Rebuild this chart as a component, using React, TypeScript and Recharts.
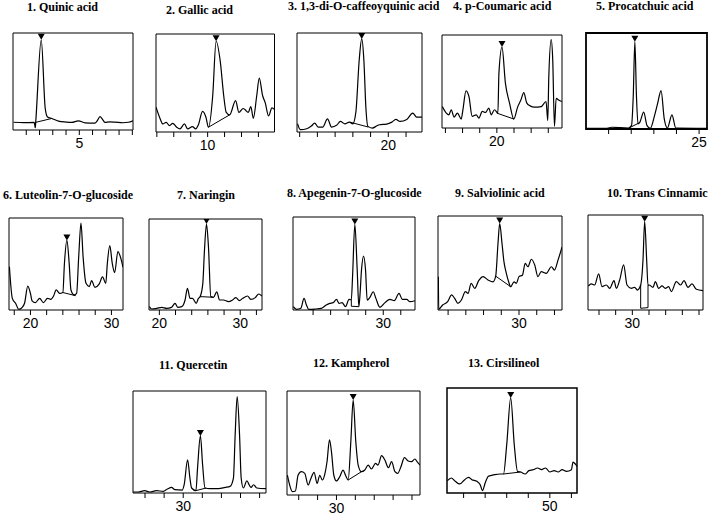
import { ComposedChart, Line, Scatter, XAxis, YAxis, ReferenceArea } from "recharts"

type Pt = [number, number]

// retention time (min) vs. detector response (% of panel height)
const quinicTrace: Pt[] = [[0.04, 8], [0.8, 7.6], [1.6, 7.8], [1.68, 2.3], [1.72, 9.5], [2.13, 93], [2.43, 22.3], [2.6, 13.5], [2.93, 11.9], [3.43, 9.2], [4.0, 8.2], [4.43, 7.8], [4.93, 9.5], [5.43, 7.4], [6.18, 7.1], [6.35, 9.5], [6.56, 13.7], [6.75, 11], [6.93, 7.8], [7.3, 8.3], [7.68, 8.1], [8.3, 7.5], [8.7, 8], [9.05, 9.5]]
const quinicBase: Pt[] = [[1.68, 7.8], [2.93, 11.9]]
const quinicApex: Pt = [2.13, 93]

const gallicTrace: Pt[] = [[6.95, 25.3], [7.2, 13.3], [7.35, 8.2], [7.55, 9.9], [7.75, 6.5], [7.94, 8.9], [8.17, 4.9], [8.37, 3.2], [8.63, 8.2], [8.82, 3.2], [9.1, 5.5], [9.3, 3.2], [9.45, 7.2], [9.7, 21], [9.9, 15], [10.05, 4.9], [10.3, 37], [10.5, 92.6], [10.75, 71.5], [10.95, 37], [11.1, 20], [11.3, 17.5], [11.65, 32], [11.85, 20], [12.1, 24], [12.2, 23], [12.4, 20], [12.55, 26], [12.7, 14], [12.9, 37], [13.05, 55], [13.25, 37], [13.4, 30], [13.6, 16.5], [13.8, 24.6], [13.95, 23]]
const gallicBase: Pt[] = [[10.05, 4.9], [11.3, 17.5]]
const gallicApex: Pt = [10.5, 92.6]

const caffeoylTrace: Pt[] = [[14.88, 8.3], [15.04, 2.3], [15.4, 3.3], [15.66, 6], [15.85, 9], [16.04, 5], [16.3, 5], [16.57, 13.3], [16.8, 5], [17.08, 6.7], [17.3, 10.7], [17.55, 8.3], [17.8, 10], [18.0, 8.3], [18.17, 20], [18.36, 73], [18.5, 94], [18.62, 73], [18.74, 23], [18.85, 5.7], [19.1, 4], [19.34, 6], [19.5, 7.3], [19.9, 8], [20.2, 10], [20.43, 12.7], [20.66, 10.7], [21.04, 12.7], [21.38, 19], [21.6, 15], [21.9, 15]]
const caffeoylBase: Pt[] = [[17.83, 10], [18.87, 5]]
const caffeoylApex: Pt = [18.5, 94]

const coumaricTrace: Pt[] = [[16.82, 23], [17.05, 16], [17.2, 14.2], [17.34, 19.6], [17.5, 11.7], [17.7, 16], [17.92, 9.6], [18.02, 19.6], [18.2, 40], [18.37, 34], [18.56, 12.5], [18.8, 14.2], [18.95, 10.7], [19.15, 17.8], [19.34, 16.7], [19.53, 21.4], [19.67, 14.2], [19.86, 19.6], [20.06, 16], [20.12, 58.7], [20.3, 87], [20.5, 48], [20.74, 26.7], [20.99, 9.6], [21.22, 23], [21.4, 30], [21.57, 38], [21.75, 26.7], [21.94, 23.8], [22.2, 22.4], [22.58, 23], [22.87, 28.5], [22.97, 8], [23.03, 55], [23.17, 95], [23.26, 73], [23.36, 1.8], [23.46, 32], [23.6, 30], [23.79, 28.5]]
const coumaricBase: Pt[] = [[20.0, 16], [21.0, 9.6]]
const coumaricApex: Pt = [20.3, 87]

const procatechuicTrace: Pt[] = [[20.0, 0.7], [20.93, 0.7], [21.14, 1.8], [21.87, 1], [22.01, 3.5], [22.09, 35], [22.16, 91], [22.23, 35], [22.3, 5.3], [22.38, 7], [22.55, 17.5], [22.7, 3.5], [22.84, 0.7], [23.03, 14], [23.17, 27], [23.32, 40], [23.46, 10.5], [23.6, 1], [23.8, 14.7], [23.97, 1], [25.35, 0.7]]
const procatechuicBase: Pt[] = [[21.9, 1], [22.4, 7]]
const procatechuicApex: Pt = [22.16, 91]

const luteolinTrace: Pt[] = [[17.4, 47], [17.76, 12.7], [18.16, 7.3], [18.57, 0.7], [18.98, 2.9], [19.27, 7.3], [19.67, 26], [20.0, 18], [20.2, 10], [20.6, 8], [21.14, 12.7], [21.6, 8], [22.1, 12.7], [22.5, 11.6], [22.86, 15.3], [23.18, 21.8], [23.6, 18], [24.0, 19], [24.2, 51], [24.5, 75.6], [24.78, 51], [25.0, 21.8], [25.4, 16.4], [25.7, 18], [25.96, 58], [26.24, 94.5], [26.5, 58], [26.86, 29], [27.27, 25.5], [27.55, 32], [27.96, 24.7], [28.5, 28.4], [28.9, 36], [29.3, 29], [29.5, 51], [29.8, 70], [30.1, 51], [30.4, 40.7], [30.8, 63.6], [31.1, 58], [31.43, 46.5]]
const luteolinBase: Pt[] = [[24.0, 19], [25.6, 15.5]]
const luteolinApex: Pt = [24.5, 75.6]

const naringinTrace: Pt[] = [[18.76, 3.7], [19.05, 1.1], [19.67, 1.8], [20.3, 2.9], [20.9, 1.8], [21.5, 2.9], [21.94, 7.3], [22.27, 2.9], [22.77, 3.7], [23.18, 11], [23.47, 23.8], [23.8, 12.8], [24.1, 12.8], [24.55, 7.3], [24.83, 12.8], [25.04, 14.7], [25.37, 29], [25.58, 66], [25.83, 94.5], [26.07, 69.6], [26.36, 14.7], [26.7, 14], [27.1, 20], [27.44, 11], [27.93, 11], [28.55, 9.2], [29.05, 11], [29.46, 13.6], [29.9, 10.3], [30.3, 12.8], [30.9, 15.4], [31.3, 11.7], [31.86, 13.6], [32.27, 17.6], [32.69, 15.4]]
const naringinBase: Pt[] = [[25.04, 14.7], [26.7, 14]]
const naringinApex: Pt = [25.83, 94.5]

const apigeninTrace: Pt[] = [[19.75, 3.6], [20.1, 0.7], [20.6, 1.8], [20.97, 12.5], [21.24, 5.4], [21.5, 0.7], [22.2, 1], [22.95, 1.8], [23.5, 5.4], [23.9, 7.1], [24.29, 7.9], [24.67, 11.4], [24.97, 7.1], [25.3, 7.9], [25.7, 3.6], [26.1, 11.4], [26.36, 11], [26.5, 35.7], [26.76, 92], [27.03, 43], [27.22, 3.6], [27.33, 14], [27.52, 43], [27.75, 58], [27.98, 43], [28.17, 10.7], [28.48, 13.6], [28.86, 19.6], [29.16, 12.5], [29.62, 2.9], [30.2, 7.9], [30.76, 11.4], [31.26, 10], [31.8, 17.9], [32.17, 11.4], [32.67, 11.4], [33.05, 8.9], [33.62, 10]]
const apigeninBase: Pt[] = [[26.36, 11.4], [26.36, 4], [27.22, 3.6]]
const apigeninApex: Pt = [26.76, 92]

const salvianolicTrace: Pt[] = [[20.9, 35.5], [20.94, 0.7], [21.38, 5.3], [21.95, 8.9], [22.4, 16], [22.74, 12.4], [23.1, 7.1], [23.5, 10.6], [23.95, 19.5], [24.25, 17.7], [24.6, 28.4], [25.0, 23], [25.45, 31.2], [25.94, 35.5], [26.5, 32], [27.07, 30], [27.37, 36], [27.63, 71], [27.82, 92], [28.08, 71], [28.3, 51.4], [28.57, 39], [28.83, 30], [29.06, 24.8], [29.44, 30], [29.7, 28.4], [30.0, 35.5], [30.38, 37], [30.7, 49.6], [31.0, 46], [31.4, 54], [31.77, 48], [32.14, 35.5], [32.5, 40.8], [33.08, 39], [33.65, 46], [34.0, 42.5], [34.4, 53], [34.85, 67]]
const salvianolicBase: Pt[] = [[27.37, 36], [29.06, 24.8]]
const salvianolicApex: Pt = [27.82, 92]

const cinnamicTrace: Pt[] = [[24.72, 25.3], [25.08, 27.4], [25.48, 26.3], [25.96, 38], [26.36, 24.6], [26.88, 26.3], [27.28, 22.8], [27.8, 31], [28.08, 22.8], [28.48, 31.6], [28.96, 47.4], [29.36, 26.3], [29.88, 22.8], [30.28, 23.9], [30.6, 21], [31.0, 26.3], [31.28, 52.6], [31.48, 93], [31.72, 52.6], [31.88, 26], [32.0, 26.3], [32.48, 23.9], [32.76, 29.8], [33.16, 22.8], [33.56, 25.3], [33.96, 22.8], [34.36, 24.6], [34.68, 19.3], [35.28, 29.8], [35.8, 26.3], [36.2, 31], [36.68, 23.9], [37.16, 27.4], [37.68, 21.8], [38.48, 20.4]]
const cinnamicBase: Pt[] = [[31.0, 26.3], [31.0, 1.8], [31.88, 2.5], [31.88, 26]]
const cinnamicApex: Pt = [31.48, 93]

const quercetinTrace: Pt[] = [[24.76, 1], [25.26, 1], [25.96, 2.3], [26.5, 1], [27.2, 2.3], [27.9, 1.6], [28.35, 3.9], [28.77, 5.5], [29.12, 3.3], [29.9, 2.9], [30.1, 8.1], [30.46, 32.6], [30.7, 14.7], [30.88, 4.9], [31.33, 2.3], [31.5, 24.4], [31.8, 56], [32.03, 27.7], [32.28, 4.9], [32.8, 4.2], [33.7, 4.2], [34.4, 5.5], [34.9, 6.5], [35.26, 14.7], [35.44, 57], [35.65, 94.5], [35.9, 57], [36.07, 14.7], [36.3, 4.9], [36.67, 12], [36.9, 8.1], [37.1, 5.5], [37.37, 8.1], [37.7, 4.9], [38.67, 4.2]]
const quercetinBase: Pt[] = [[31.33, 2.3], [32.4, 4.9]]
const quercetinApex: Pt = [31.8, 56]

const kaempferolTrace: Pt[] = [[24.8, 19], [25.04, 9.6], [25.33, 3.2], [25.65, 3.8], [25.93, 19], [26.28, 22.4], [26.64, 20.8], [27.0, 9.6], [27.27, 15.4], [27.63, 21.8], [27.95, 11.2], [28.23, 19], [28.5, 14.4], [28.76, 19.9], [29.0, 32], [29.26, 53], [29.47, 41.7], [29.72, 19], [30.0, 13.5], [30.35, 17.6], [30.7, 24], [30.96, 19], [31.24, 14.4], [31.52, 51], [31.77, 91.3], [32.05, 51], [32.3, 28.8], [32.65, 22.4], [33.0, 24], [33.36, 28.8], [33.7, 25], [34.14, 30.4], [34.4, 28.8], [34.78, 37.8], [35.13, 33.6], [35.5, 26.3], [35.84, 32], [36.2, 22.4], [36.48, 20.8], [36.83, 27.2], [37.2, 35.9], [37.6, 32.7], [37.96, 32], [38.3, 34.6], [38.6, 31.4], [38.85, 28.8]]
const kaempferolBase: Pt[] = [[31.24, 14.4], [32.65, 22.4]]
const kaempferolApex: Pt = [31.77, 91.3]

const cirsilineolTrace: Pt[] = [[40.5, 11.7], [40.86, 14.3], [41.23, 11.1], [41.63, 8.6], [42.1, 12.7], [42.46, 14.9], [42.77, 12.7], [43.23, 11.1], [43.54, 7.9], [43.75, 2.2], [44.0, 9.5], [44.3, 15.9], [44.6, 16.8], [44.9, 17.5], [45.4, 18.1], [45.7, 18.1], [46.0, 46], [46.37, 90.5], [46.7, 46], [47.0, 20.6], [47.3, 20], [47.7, 18.1], [48.06, 21.3], [48.46, 22.2], [48.86, 23.8], [49.23, 22.2], [49.6, 23.8], [50.0, 20], [50.4, 21.3], [50.77, 20], [51.14, 22.2], [51.54, 20.6], [52.0, 22.2], [52.15, 29.5], [52.37, 27.6], [52.52, 25.4]]
const cirsilineolBase: Pt[] = [[45.7, 18.1], [47.3, 20]]
const cirsilineolApex: Pt = [46.37, 90.5]

const titles = [
  "1. Quinic acid", "2. Gallic acid", "3. 1,3-di-O-caffeoyquinic acid", "4. p-Coumaric acid", "5. Procatchuic acid",
  "6. Luteolin-7-O-glucoside", "7. Naringin", "8. Apegenin-7-O-glucoside", "9. Salviolinic acid", "10. Trans Cinnamic",
  "11. Quercetin", "12. Kampherol", "13. Cirsilineol",
]

const range = (a: number, b: number, s: number) => {
  const out: number[] = []
  for (let v = a; v <= b + 1e-9; v += s) out.push(v)
  return out
}

const panels = [
  { trace: quinicTrace, base: quinicBase, apex: quinicApex, domain: [0, 9.05], ticks: range(1, 9, 1), labels: [5], box: [13, 33, 133, 130], title: [27, 0], frame: 1 },
  { trace: gallicTrace, base: gallicBase, apex: gallicApex, domain: [6.95, 13.95], ticks: range(7, 13, 1), labels: [10], box: [155.5, 33.5, 274, 131.5], title: [166, 3], frame: 1 },
  { trace: caffeoylTrace, base: caffeoylBase, apex: caffeoylApex, domain: [14.85, 21.9], ticks: range(15, 21, 1), labels: [20], box: [297, 33, 422, 132], title: [288, -1], frame: 1 },
  { trace: coumaricTrace, base: coumaricBase, apex: coumaricApex, domain: [16.8, 23.8], ticks: range(17, 23, 1), labels: [20], box: [442, 35, 562, 128], title: [453, -1], frame: 1 },
  { trace: procatechuicTrace, base: procatechuicBase, apex: procatechuicApex, domain: [20, 25.35], ticks: range(21, 25, 1), labels: [25], box: [586, 33, 707, 129], title: [596, -1], frame: 1.8 },
  { trace: luteolinTrace, base: luteolinBase, apex: luteolinApex, domain: [17.35, 31.43], ticks: range(18, 30, 2), labels: [20, 30], box: [9, 218, 123, 310], title: [3, 188], frame: 1 },
  { trace: naringinTrace, base: naringinBase, apex: naringinApex, domain: [18.72, 32.69], ticks: range(20, 32, 2), labels: [20, 30], box: [149, 219, 262, 310], title: [177, 188], frame: 1 },
  { trace: apigeninTrace, base: apigeninBase, apex: apigeninApex, domain: [19.71, 33.62], ticks: range(22, 32, 2), labels: [30], box: [293, 217, 415, 310], title: [287, 186], frame: 1 },
  { trace: salvianolicTrace, base: salvianolicBase, apex: salvianolicApex, domain: [20.86, 34.85], ticks: range(22, 34, 2), labels: [30], box: [438, 216, 562, 310], title: [455, 186], frame: 1 },
  { trace: cinnamicTrace, base: cinnamicBase, apex: cinnamicApex, domain: [24.68, 38.48], ticks: range(26, 38, 2), labels: [30], box: [588, 215, 703, 310], title: [607, 186], frame: 1 },
  { trace: quercetinTrace, base: quercetinBase, apex: quercetinApex, domain: [24.74, 38.67], ticks: range(26, 38, 2), labels: [30], box: [133, 391, 266, 493], title: [159, 358], frame: 1 },
  { trace: kaempferolTrace, base: kaempferolBase, apex: kaempferolApex, domain: [24.76, 38.85], ticks: range(26, 38, 2), labels: [30], box: [287, 391, 420, 495], title: [313, 356], frame: 1 },
  { trace: cirsilineolTrace, base: cirsilineolBase, apex: cirsilineolApex, domain: [40.46, 52.52], ticks: range(42, 52, 2), labels: [50], box: [447, 388, 577, 493], title: [468, 356], frame: 1.5 },
]

const rows = (pts: Pt[]) => pts.map(([x, y]) => ({ x, y }))

const Marker = (props: any) => {
  const { cx, cy } = props
  if (cx == null || cy == null) return null
  return <path d={`M${cx - 3.5},${cy - 6} L${cx + 3.5},${cy - 6} L${cx},${cy} Z`} fill="#000" />
}

const AXIS_H = 26

function Panel({ p }: { p: (typeof panels)[number] }) {
  const [l, t, r, b] = p.box
  return (
    <div style={{ position: "absolute", left: l - 1, top: t - 1 }}>
      <ComposedChart width={r - l + 2} height={b - t + 1 + AXIS_H} margin={{ top: 1, right: 1, bottom: 0, left: 1 }}>
        <XAxis
          type="number"
          dataKey="x"
          domain={p.domain}
          allowDataOverflow
          ticks={p.ticks}
          interval={0}
          tickFormatter={(v: number) => (p.labels.includes(v) ? String(v) : "")}
          axisLine={false}
          tickLine={{ stroke: "#000" }}
          tickSize={5}
          tickMargin={3}
          height={AXIS_H}
          tick={{ fill: "#000", fontSize: 14, fontFamily: "'Liberation Sans', Arial, sans-serif" }}
        />
        <YAxis type="number" domain={[0, 100]} hide allowDataOverflow />
        <ReferenceArea x1={p.domain[0]} x2={p.domain[1]} y1={0} y2={100} fill="none" stroke="#000" strokeWidth={p.frame} ifOverflow="visible" />
        <Line data={rows(p.base)} dataKey="y" type="linear" stroke="#000" strokeWidth={1} dot={false} activeDot={false} isAnimationActive={false} />
        <Line data={rows(p.trace)} dataKey="y" type="monotone" stroke="#000" strokeWidth={1.2} dot={false} activeDot={false} isAnimationActive={false} />
        <Scatter data={rows([p.apex])} dataKey="y" shape={Marker} isAnimationActive={false} />
      </ComposedChart>
    </div>
  )
}

export default function App() {
  return (
    <div style={{ position: "absolute", left: 0, top: 0, width: 709, height: 519, background: "#fff", overflow: "hidden" }}>
      {panels.map((p, i) => (
        <div key={"t" + i}>
          <div
            style={{
              position: "absolute",
              left: p.title[0],
              top: p.title[1],
              whiteSpace: "nowrap",
              fontFamily: "'Liberation Serif', 'Times New Roman', serif",
              fontWeight: "bold",
              fontSize: 12,
              lineHeight: "14px",
              color: "#000",
            }}
          >
            {titles[i]}
          </div>
          <Panel p={p} />
        </div>
      ))}
    </div>
  )
}
